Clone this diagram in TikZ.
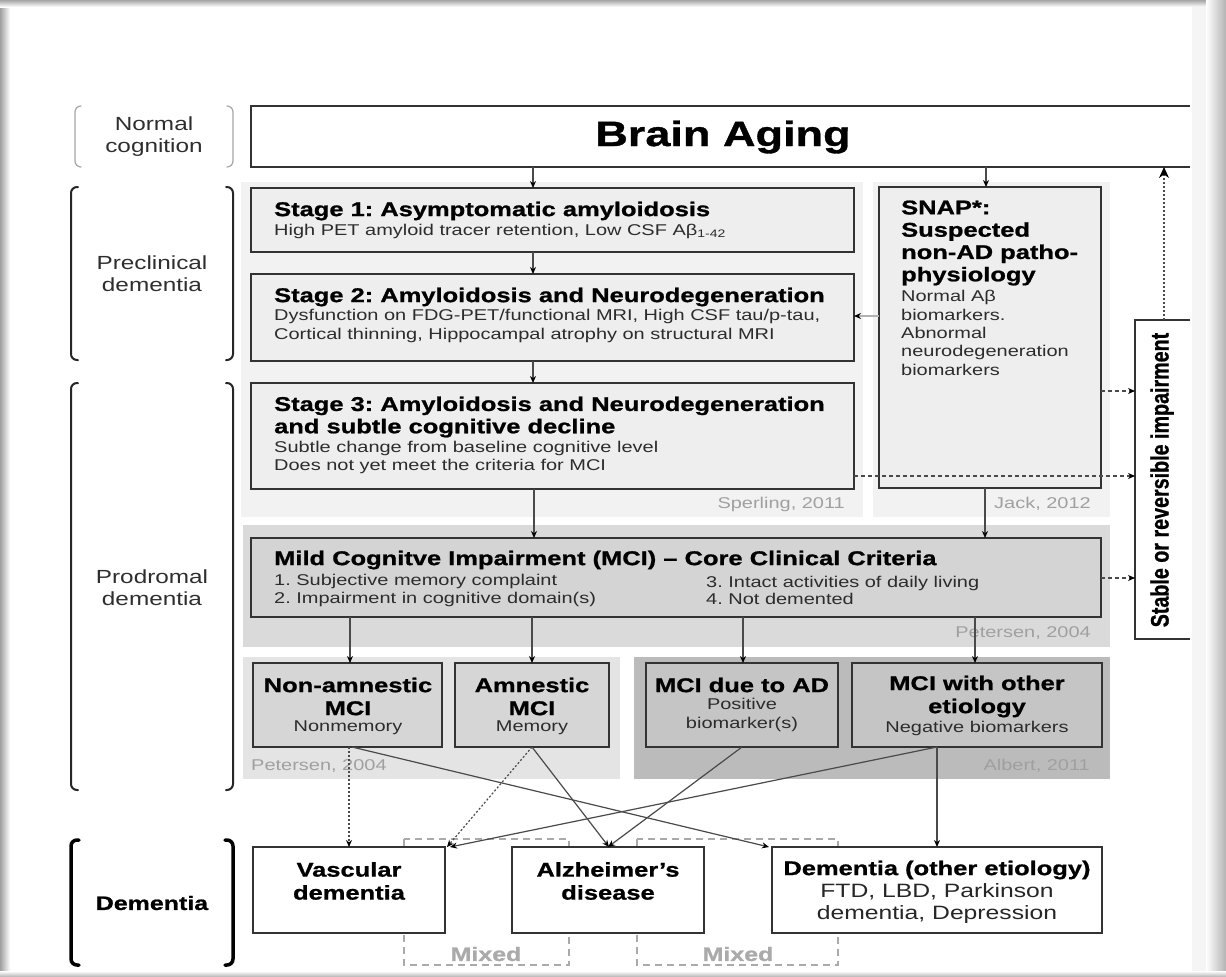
\documentclass[tikz,border=0pt]{standalone}
\usepackage{fontspec}
\usepackage{graphicx}
\setmainfont{Liberation Sans}[FakeStretch=1.28, BoldFeatures={FakeBold=1}]
\newfontfamily\plainsans{Liberation Sans}[BoldFeatures={FakeBold=1}]
\usetikzlibrary{arrows.meta,calc}
\definecolor{boxc}{HTML}{333333}
\definecolor{lnc}{HTML}{4A4A4A}
\definecolor{subc}{HTML}{2C2C2C}
\definecolor{citec}{HTML}{A0A0A0}
\definecolor{mixc}{HTML}{AAAAAA}
\definecolor{panA}{HTML}{F2F2F2}
\definecolor{stgf}{HTML}{EEEEEE}
\definecolor{panM}{HTML}{DADADA}
\definecolor{mcif}{HTML}{D4D4D4}
\definecolor{panP}{HTML}{E4E4E4}
\definecolor{subf}{HTML}{D6D6D6}
\definecolor{panB}{HTML}{BBBBBB}
\definecolor{albf}{HTML}{C5C5C5}
\begin{document}
\frenchspacing
\begin{tikzpicture}[x=1pt,y=-1pt,
  box/.style={draw=boxc, line width=1.7pt, anchor=north west, inner sep=0pt, outer sep=0pt},
  panel/.style={anchor=north west, inner sep=0pt, outer sep=0pt},
  ttl/.style={font=\fontsize{19.9}{22.3}\selectfont\bfseries, inner sep=0pt, text=black, align=left},
  ttlc/.style={font=\fontsize{19.9}{23}\selectfont\bfseries, inner sep=0pt, text=black, align=center},
  sub/.style={font=\fontsize{15.6}{18.3}\selectfont, inner sep=0pt, text=subc, align=left},
  subcc/.style={font=\fontsize{15.6}{18.3}\selectfont, inner sep=0pt, text=subc, align=center},
  cite/.style={font=\fontsize{15.6}{18}\selectfont, inner sep=0pt, text=citec},
  lab/.style={font=\fontsize{19}{22}\selectfont, inner sep=0pt, text=black!82, align=center},
  mixlab/.style={font=\fontsize{19.5}{22}\selectfont\bfseries, inner sep=0pt, text=mixc},
  conn/.style={draw=lnc, line width=1.2pt, -{Stealth[length=7pt,width=6pt,color=black]}},
  dashc/.style={conn, dash pattern=on 4pt off 3pt},
  dotc/.style={conn, dash pattern=on 2pt off 2pt},
  brk/.style={rounded corners=6pt, line cap=round}
]
\useasboundingbox (0,0) rectangle (1226,977);
\fill[white] (0,0) rectangle (1226,977);
% screenshot shadow frame
\shade[left color=gray!75, right color=white] (0,0) rectangle (10,977);
\shade[top color=gray!70, bottom color=white] (0,0) rectangle (1226,7);
\fill[gray!8] (1192,7) rectangle (1206,972);
\shade[left color=white, right color=gray!60] (1206,0) rectangle (1226,977);
\shade[top color=white, bottom color=gray!60] (0,971) rectangle (1226,977);

% side brackets and labels
\draw[brk, draw=gray!70, line width=1.2pt] (81,106) -- (75,106) -- (75,167) -- (81,167);
\draw[brk, draw=gray!70, line width=1.2pt] (227,106) -- (233,106) -- (233,167) -- (227,167);
\node[lab] (lnorm) at (154,137) {Normal\\cognition};
\draw[brk, draw=black!85, line width=2pt] (78,187) -- (71,187) -- (71,360) -- (78,360);
\draw[brk, draw=black!85, line width=2pt] (226,187) -- (233,187) -- (233,360) -- (226,360);
\node[lab] (lpre) at (152,274) {Preclinical\\dementia};
\draw[brk, draw=black!85, line width=2pt] (78,383) -- (71,383) -- (71,790) -- (78,790);
\draw[brk, draw=black!85, line width=2pt] (226,383) -- (233,383) -- (233,790) -- (226,790);
\node[lab] (lpro) at (152,588) {Prodromal\\dementia};
\draw[brk, draw=black, line width=3.5pt] (79,840) -- (71,840) -- (71,965) -- (79,965);
\draw[brk, draw=black, line width=3.5pt] (225,840) -- (233,840) -- (233,965) -- (225,965);
\node[lab, font=\fontsize{19.5}{22}\selectfont\bfseries, text=black] (ldem) at (152,903) {Dementia};

% panels
\node[panel, fill=panA, minimum width=622pt, minimum height=335pt] (p1) at (241,182) {};
\node[panel, fill=panA, minimum width=237pt, minimum height=335pt] (p2) at (873,182) {};
\node[panel, fill=panM, minimum width=867pt, minimum height=122pt] (pm) at (243,525) {};
\node[panel, fill=panP, minimum width=377pt, minimum height=122pt] (pp) at (243,657) {};
\node[panel, fill=panB, minimum width=476pt, minimum height=122pt] (pa) at (634,657) {};
\node[cite, anchor=east] (c1) at (845,504) {Sperling, 2011};
\node[cite, anchor=east] (c2) at (1091,504) {Jack, 2012};
\node[cite, anchor=east] (c3) at (1091,633) {Petersen, 2004};
\node[cite, anchor=west] (c4) at (251,766) {Petersen, 2004};
\node[cite, anchor=east] (c5) at (1090,766) {Albert, 2011};

% brain aging (open on the right)
\node[panel, fill=white, minimum width=939pt, minimum height=61pt] (brain) at (251,106) {};
\draw[draw=boxc, line width=1.7pt] (brain.north east) -- (brain.north west) -- (brain.south west) -- (brain.south east);
\node[inner sep=0pt, font=\fontsize{35.2}{40}\selectfont\bfseries] (braint) at (723,137) {Brain Aging};

% stages
\node[box, fill=stgf, minimum width=603pt, minimum height=64pt] (stage1) at (251,188) {};
\node[ttl, anchor=west] (s1t) at (274,211) {Stage 1: Asymptomatic amyloidosis};
\node[sub, anchor=west] (s1s) at (274,231) {High PET amyloid tracer retention, Low CSF Aβ\textsubscript{1-42}};
\node[box, fill=stgf, minimum width=603pt, minimum height=87pt] (stage2) at (251,274) {};
\node[ttl, anchor=west] (s2t) at (274,297) {Stage 2: Amyloidosis and Neurodegeneration};
\node[sub, anchor=west] (s2s) at (274,326) {Dysfunction on FDG-PET/functional MRI, High CSF tau/p-tau,\\Cortical thinning, Hippocampal atrophy on structural MRI};
\node[box, fill=stgf, minimum width=603pt, minimum height=106pt] (stage3) at (251,383) {};
\node[ttl, anchor=west] (s3t) at (274,417) {Stage 3: Amyloidosis and Neurodegeneration\\and subtle cognitive decline};
\node[sub, anchor=west] (s3s) at (274,457.5) {Subtle change from baseline cognitive level\\Does not yet meet the criteria for MCI};

% SNAP
\node[box, fill=stgf, minimum width=222pt, minimum height=301pt] (snap) at (879,187) {};
\node[ttl, anchor=west] (snt) at (901,243) {SNAP*:\\Suspected\\non-AD patho-\\physiology};
\node[sub, anchor=west] (sns) at (901,333) {Normal Aβ\\biomarkers.\\Abnormal\\neurodegeneration\\biomarkers};

% stable box (open on the right)
\node[panel, fill=white, minimum width=55pt, minimum height=319pt] (stable) at (1135,320) {};
\draw[draw=boxc, line width=1.7pt] (stable.north east) -- (stable.north west) -- (stable.south west) -- (stable.south east);
\node[inner sep=0pt, rotate=90, font=\plainsans\fontsize{19.7}{22}\selectfont\bfseries] (stablet) at (1162,480) {\scalebox{1}[1.28]{Stable or reversible impairment}};

% MCI
\node[box, fill=mcif, minimum width=850pt, minimum height=79pt] (mci) at (251,538) {};
\node[ttl, anchor=west] (mcit) at (274,560) {Mild Cognitve Impairment (MCI) – Core Clinical Criteria};
\node[sub, anchor=west, font=\fontsize{15.6}{17.5}\selectfont] (mcia) at (274,590.5) {1. Subjective memory complaint\\2. Impairment in cognitive domain(s)};
\node[sub, anchor=west, font=\fontsize{15.6}{17.5}\selectfont] (mcib) at (706,590.5) {3. Intact activities of daily living\\4. Not demented};

% MCI subtypes
\node[box, fill=subf, minimum width=189pt, minimum height=84pt] (nonam) at (253,663) {};
\node[ttlc] (nonamt) at (348,696.5) {Non-amnestic\\MCI};
\node[subcc] (nonams) at (348,728) {Nonmemory};
\node[box, fill=subf, minimum width=154pt, minimum height=84pt] (amn) at (455,663) {};
\node[ttlc] (amnt) at (532,696.5) {Amnestic\\MCI};
\node[subcc] (amns) at (532,728) {Memory};
\node[box, fill=albf, minimum width=192pt, minimum height=84pt] (mciad) at (646,663) {};
\node[ttlc] (mciadt) at (742,685) {MCI due to AD};
\node[subcc] (mciads) at (742,715) {Positive\\biomarker(s)};
\node[box, fill=albf, minimum width=250pt, minimum height=84pt] (mcioth) at (852,663) {};
\node[ttlc] (mcioint) at (977,696.5) {MCI with other\\etiology};
\node[subcc] (mciots) at (977,728) {Negative biomarkers};

% mixed dashed frames
\draw[draw=mixc, line width=1.6pt, dash pattern=on 7pt off 5pt] (404,839) rectangle (569,965);
\draw[draw=mixc, line width=1.6pt, dash pattern=on 7pt off 5pt] (637,839) rectangle (838,965);
\node[mixlab] (mix1) at (486,954) {Mixed};
\node[mixlab] (mix2) at (738,954) {Mixed};

% dementia boxes
\node[box, fill=white, minimum width=192pt, minimum height=86pt] (vasc) at (253,847) {};
\node[ttlc] (vasct) at (349,881) {Vascular\\dementia};
\node[box, fill=white, minimum width=192pt, minimum height=86pt] (alz) at (512,847) {};
\node[ttlc] (alzt) at (608,881) {Alzheimer’s\\disease};
\node[box, fill=white, minimum width=330pt, minimum height=86pt] (demoth) at (772,847) {};
\node[ttlc] (demotht) at (937,870) {Dementia (other etiology)};
\node[subcc, font=\fontsize{19.3}{22.5}\selectfont, text=black!85] (demoths) at (937,903.5) {FTD, LBD, Parkinson\\dementia, Depression};

% connectors
\draw[conn] (brain.south -| 533,0) -- (stage1.north -| 533,0);
\draw[conn] (brain.south -| 986,0) -- (snap.north -| 986,0);
\draw[conn] (stage1.south -| 533,0) -- (stage2.north -| 533,0);
\draw[conn] (stage2.south -| 533,0) -- (stage3.north -| 533,0);
\draw[conn] (stage3.south -| 534,0) -- (mci.north -| 534,0);
\draw[conn] (snap.south -| 985,0) -- (mci.north -| 985,0);
\draw[conn, draw=gray!60] (snap.west |- 0,316) -- (stage2.east |- 0,316);
\draw[dashc] (snap.east |- 0,391) -- (stable.west |- 0,391);
\draw[dashc] (stage3.east |- 0,476) -- (stable.west |- 0,476);
\draw[dashc] (mci.east |- 0,578) -- (stable.west |- 0,578);
\draw[dotc, -{Stealth[length=11pt,width=10pt,color=black]}] (stable.north -| 1164,0) -- (brain.south -| 1164,0);
\draw[conn] (mci.south -| 350,0) -- (nonam.north -| 350,0);
\draw[conn] (mci.south -| 532,0) -- (amn.north -| 532,0);
\draw[conn] (mci.south -| 743,0) -- (mciad.north -| 743,0);
\draw[conn] (mci.south -| 975,0) -- (mcioth.north -| 975,0);
\draw[dotc] (nonam.south -| 349,0) -- (vasc.north -| 349,0);
\draw[conn] (nonam.south -| 352,0) -- ([xshift=-3pt]demoth.north west);
\draw[dotc] (amn.south) -- ([xshift=2pt]vasc.north east);
\draw[conn] (amn.south) -- (alz.north -| 609,0);
\draw[conn] (mciad.south) -- (alz.north -| 608,0);
\draw[conn] (mcioth.south -| 937,0) -- ([xshift=5pt]vasc.north east);
\draw[conn] (mcioth.south -| 937,0) -- (demoth.north -| 937,0);
\end{tikzpicture}
\end{document}
